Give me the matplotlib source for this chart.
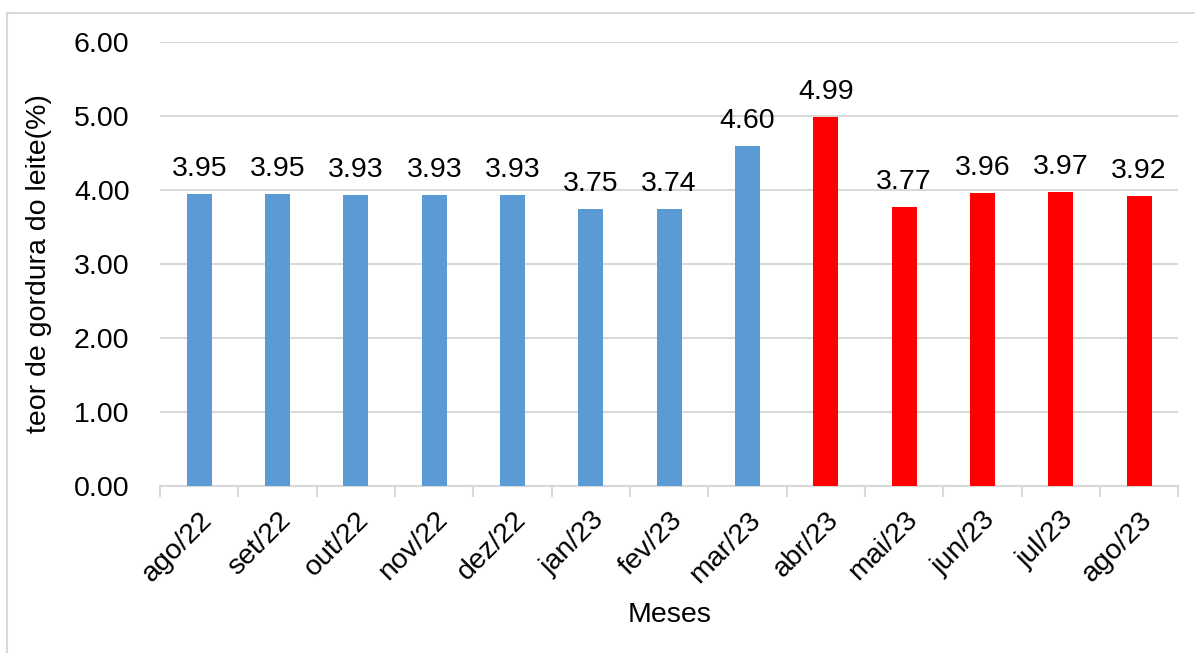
import matplotlib
matplotlib.use("Agg")
import matplotlib.pyplot as plt
import numpy as np

months = ["ago/22", "set/22", "out/22", "nov/22", "dez/22", "jan/23", "fev/23",
          "mar/23", "abr/23", "mai/23", "jun/23", "jul/23", "ago/23"]
fat = [3.95, 3.95, 3.93, 3.93, 3.93, 3.75, 3.74, 4.60, 4.99, 3.77, 3.96, 3.97, 3.92]
n_blue = 8  # ago/22 .. mar/23

BLUE = "#5B9BD5"
RED = "#FF0000"
GRID = "#D9D9D9"
FS = 20.5

plt.rcParams["font.family"] = ["Liberation Sans", "DejaVu Sans"]

fig = plt.figure(figsize=(11.95, 6.53), dpi=100)
ax = fig.add_axes([0.134, 0.2557, 0.852, 0.68])

x = np.arange(len(months))
colors = [BLUE] * n_blue + [RED] * (len(months) - n_blue)
ax.bar(x, fat, width=0.32, color=colors, zorder=3)
for xi, v in zip(x, fat):
    ax.text(xi, v + 0.16, f"{v:.2f}", ha="center", va="bottom", fontsize=FS, zorder=4)

ax.set_xlim(-0.5, len(months) - 0.5)
ax.set_ylim(0, 6)
ax.set_yticks(np.arange(0, 6.01, 1))
ax.set_yticklabels([f"{t:.2f}" for t in np.arange(0, 6.01, 1)])
ax.grid(axis="y", color=GRID, linewidth=1.5, zorder=0)

ax.set_xticks(x)
ax.set_xticklabels(months, rotation=45, ha="right", rotation_mode="anchor")
ax.set_xticks(np.arange(-0.5, len(months)), minor=True)
ax.tick_params(axis="x", which="major", length=0, labelsize=FS, pad=15)
ax.tick_params(axis="x", which="minor", length=8, width=1.5, color=GRID)
ax.tick_params(axis="y", length=0, labelsize=FS, pad=22)

for s in ("top", "right", "left"):
    ax.spines[s].set_visible(False)
ax.spines["bottom"].set_color(GRID)
ax.spines["bottom"].set_linewidth(1.5)

ax.set_xlabel("Meses", fontsize=FS, labelpad=10)
ax.set_ylabel("teor de gordura do leite(%)", fontsize=FS, labelpad=16)

# light frame around the whole chart
fig.patches.append(plt.Rectangle((7 / 1195, -0.01), 1.2, 1 - 13 / 653 + 0.01,
                                 transform=fig.transFigure, fill=False,
                                 edgecolor=GRID, linewidth=1.5))

fig.savefig("out.png", dpi=100)
